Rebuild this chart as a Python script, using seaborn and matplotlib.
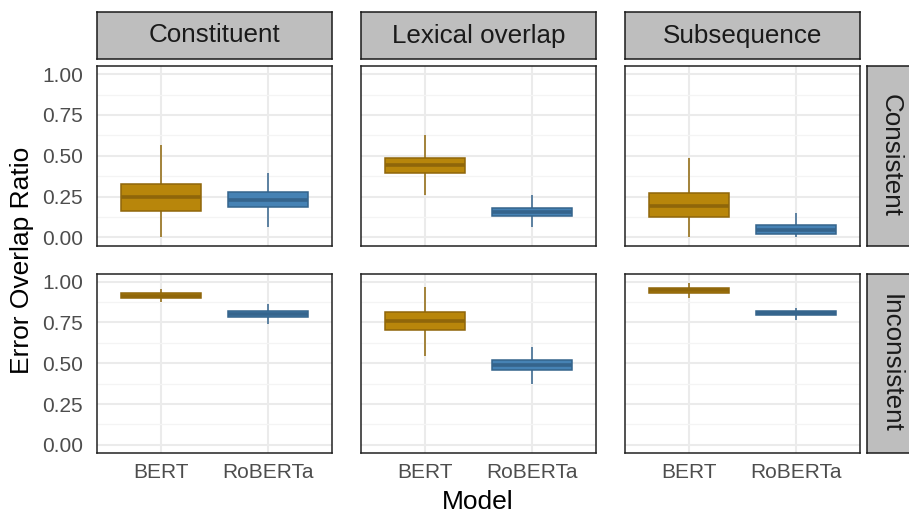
import numpy as np
import pandas as pd
import matplotlib.pyplot as plt
import seaborn as sns

patterns = ['Constituent', 'Lexical overlap', 'Subsequence']
conditions = ['Consistent', 'Inconsistent']
models = ['BERT', 'RoBERTa']

# five-number summaries per pattern: [min, q1, median, q3, max]
bert_consistent = [
    [0.000, 0.163, 0.247, 0.327, 0.568],
    [0.257, 0.396, 0.446, 0.488, 0.629],
    [0.000, 0.127, 0.195, 0.271, 0.488],
]
roberta_consistent = [
    [0.066, 0.187, 0.227, 0.275, 0.392],
    [0.066, 0.131, 0.157, 0.181, 0.257],
    [0.002, 0.022, 0.046, 0.076, 0.147],
]
bert_inconsistent = [
    [0.875, 0.900, 0.915, 0.930, 0.955],
    [0.547, 0.706, 0.759, 0.813, 0.970],
    [0.900, 0.929, 0.947, 0.964, 0.990],
]
roberta_inconsistent = [
    [0.738, 0.783, 0.803, 0.823, 0.863],
    [0.372, 0.457, 0.489, 0.519, 0.602],
    [0.768, 0.794, 0.808, 0.822, 0.838],
]

yticks = [0.0, 0.25, 0.5, 0.75, 1.0]
ytick_labels = ['0.00', '0.25', '0.50', '0.75', '1.00']

fills = {'BERT': '#B8860B', 'RoBERTa': '#4682B4'}
edges = {'BERT': '#8F660A', 'RoBERTa': '#35648C'}

rows = []
summaries = {
    ('Consistent', 'BERT'): bert_consistent,
    ('Consistent', 'RoBERTa'): roberta_consistent,
    ('Inconsistent', 'BERT'): bert_inconsistent,
    ('Inconsistent', 'RoBERTa'): roberta_inconsistent,
}
for (cond, model), per_pattern in summaries.items():
    for pat, vals in zip(patterns, per_pattern):
        for v in vals:
            rows.append({'pattern': pat, 'condition': cond, 'model': model, 'ratio': v})
df = pd.DataFrame(rows)

sns.set_style('white')
plt.rcParams['font.family'] = ['Liberation Sans', 'DejaVu Sans']

W, H = 909, 513
fig = plt.figure(figsize=(W / 100, H / 100), dpi=100)


def frac(x, y, w, h):
    return [x / W, 1 - (y + h) / H, w / W, h / H]


col_x = [97, 361, 625]
row_y = [66, 273.5]
pw, ph = 235, 179.5
strip_h = 47

for j, pat in enumerate(patterns):
    sax = fig.add_axes(frac(col_x[j], 12, pw, strip_h))
    sax.set_facecolor('#BEBEBE')
    sax.set_xticks([]); sax.set_yticks([])
    for s in sax.spines.values():
        s.set_color('#1A1A1A'); s.set_linewidth(1.1)
    sax.text(0.5, 0.5, pat, ha='center', va='center', fontsize=18.7,
             color='#1A1A1A', transform=sax.transAxes)

for i, cond in enumerate(conditions):
    sax = fig.add_axes(frac(867, row_y[i], strip_h, ph))
    sax.set_facecolor('#BEBEBE')
    sax.set_xticks([]); sax.set_yticks([])
    for s in sax.spines.values():
        s.set_color('#1A1A1A'); s.set_linewidth(1.1)
    sax.text(0.5, 0.5, cond, ha='center', va='center', fontsize=18.7,
             rotation=-90, color='#1A1A1A', transform=sax.transAxes)

for i, cond in enumerate(conditions):
    for j, pat in enumerate(patterns):
        ax = fig.add_axes(frac(col_x[j], row_y[i], pw, ph))
        sub = df[(df.condition == cond) & (df.pattern == pat)]
        for m in models:
            sns.boxplot(data=sub[sub.model == m], x='model', y='ratio', order=models,
                        color=fills[m], linecolor=edges[m], saturation=1,
                        width=0.75, whis=(0, 100), showcaps=False, linewidth=1.1,
                        medianprops={'linewidth': 2.6}, ax=ax)
        ax.set_xlim(-0.6, 1.6)
        ax.set_ylim(-0.05, 1.05)
        ax.set_xlabel(''); ax.set_ylabel('')
        ax.set_yticks(yticks)
        ax.set_yticks([0.125, 0.375, 0.625, 0.875], minor=True)
        ax.set_axisbelow(True)
        ax.grid(True, which='major', axis='both', color='#EBEBEB', linewidth=1.5)
        ax.grid(True, which='minor', axis='y', color='#F4F4F4', linewidth=0.9)
        ax.tick_params(which='both', length=0, labelsize=15, labelcolor='#4D4D4D')
        ax.tick_params(axis='y', pad=10)
        ax.tick_params(axis='x', pad=7)
        if j == 0:
            ax.set_yticklabels(ytick_labels)
        else:
            ax.set_yticklabels([])
        if i == 0:
            ax.set_xticklabels([])
        else:
            ax.set_xticks([0, 1])
            ax.set_xticklabels(models)
        for s in ax.spines.values():
            s.set_visible(True)
            s.set_color('#222222'); s.set_linewidth(1.1)

fig.text(22 / W, 1 - 260 / H, 'Error Overlap Ratio', rotation=90, ha='center',
         va='center', fontsize=19, color='black')
fig.text(478 / W, 1 - 509 / H, 'Model', ha='center', va='baseline',
         fontsize=19, color='black')

fig.savefig('out.png', dpi=100)
